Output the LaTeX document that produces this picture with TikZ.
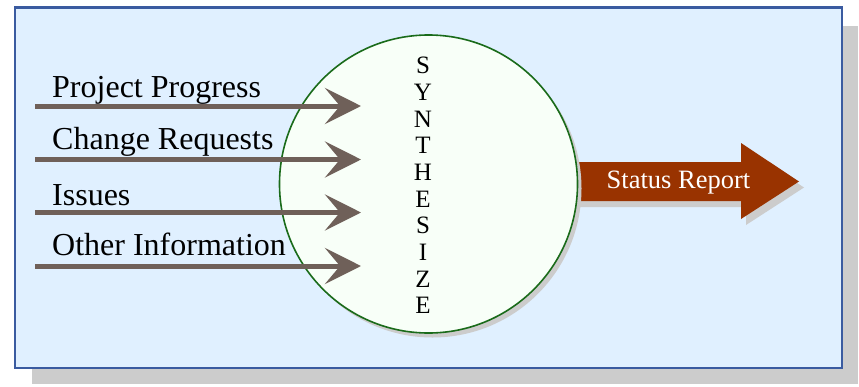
\documentclass[tikz,border=0pt]{standalone}
\usepackage{fontspec}
\setmainfont{Liberation Serif}
\usetikzlibrary{arrows.meta}

\definecolor{panelfill}{HTML}{E0F0FF}
\definecolor{panelline}{HTML}{3A5BA0}
\definecolor{shadowgray}{HTML}{CCCCCC}
\definecolor{flowgray}{HTML}{6F6059}
\definecolor{ringgreen}{HTML}{1A6B1A}
\definecolor{ringfill}{HTML}{F8FFF8}
\definecolor{reportrust}{HTML}{993300}

\tikzset{
  inlabel/.style={anchor=base west, inner sep=0pt, font=\fontsize{32}{36}\selectfont},
  inflow/.style={draw=flowgray, line width=5pt,
    -{Stealth[length=36pt, width=36pt, inset=15pt, fill=flowgray]}},
  ring/.style={circle, minimum size=298pt, inner sep=0pt, draw=ringgreen,
    line width=1.6pt, fill=ringfill},
  ringshadow/.style={circle, minimum size=298pt, inner sep=0pt, fill=shadowgray},
}

\begin{document}
\begin{tikzpicture}[x=1pt, y=-1pt]
  \useasboundingbox (0,0) rectangle (859,386);

  % panel with its drop shadow
  \fill[shadowgray] (32,26) rectangle (858,384);
  \draw[panelline, line width=2.5pt, fill=panelfill] (15,7.5) rectangle (842,368);

  % output block arrow and its shadow
  \fill[shadowgray, shift={(5,6)}]
    (570,162) -- (741,162) -- (741,143) -- (799,181.5) -- (741,219)
    -- (741,201) -- (570,201) -- cycle;
  \fill[reportrust]
    (570,162) -- (741,162) -- (741,143) -- (799,181.5) -- (741,219)
    -- (741,201) -- (570,201) -- cycle;
  \node[text=white, font=\fontsize{26.5}{30}\selectfont, anchor=base]
    (report) at (678.5,188.5) {Status Report};

  % central process circle
  \node[ringshadow] (synshadow) at (432.5,188.5) {};
  \node[ring] (syn) at (428.5,184) {};
  \node[align=center, inner sep=0pt,
        font=\fontsize{25}{26.7}\selectfont] (word) at (423,185.5)
    {S\\Y\\N\\T\\H\\E\\S\\I\\Z\\E};

  % incoming information flows
  \node[inlabel] (l1) at (52,97)  {Project Progress};
  \node[inlabel] (l2) at (52,149) {Change Requests};
  \node[inlabel] (l3) at (52,205.5) {Issues};
  \node[inlabel] (l4) at (52,255) {Other Information};

  \coordinate (s1) at (35,106);   \coordinate (e1) at (361,106);
  \coordinate (s2) at (35,159.5); \coordinate (e2) at (361,159.5);
  \coordinate (s3) at (35,212.5); \coordinate (e3) at (361,212.5);
  \coordinate (s4) at (35,266);   \coordinate (e4) at (361,266);

  \draw[inflow] (s1) -- (e1);
  \draw[inflow] (s2) -- (e2);
  \draw[inflow] (s3) -- (e3);
  \draw[inflow] (s4) -- (e4);
\end{tikzpicture}
\end{document}
